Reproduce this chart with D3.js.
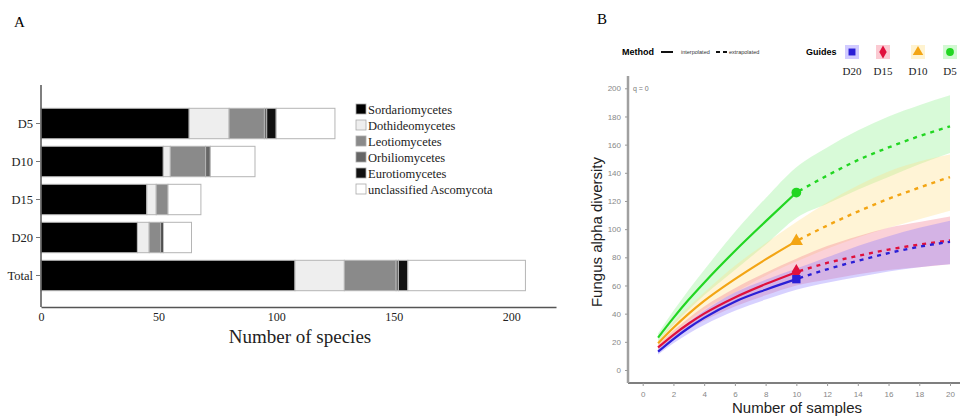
<!DOCTYPE html>
<html>
<head>
<meta charset="utf-8">
<script src="https://cdn.jsdelivr.net/npm/d3@7"></script>
<style>
  body { margin: 0; background: #fff; }
  svg { display: block; }
</style>
</head>
<body>
<svg id="chart" width="964" height="419"></svg>
<script>
// ---- panel A data ----
var groups = ['D5', 'D10', 'D15', 'D20', 'Total']
var classes = ['Sordariomycetes', 'Dothideomycetes', 'Leotiomycetes', 'Orbiliomycetes', 'Eurotiomycetes', 'unclassified Ascomycota']
var sordario = [63, 52, 45, 41, 108]
var dothideo = [17, 3, 4, 5, 21]
var leotio = [15, 15, 5, 5, 22]
var orbilio = [1, 2, 0, 0, 1]
var eurotio = [4, 0, 0, 1, 4]
var unclass = [25, 19, 14, 12, 50]
var speciesTicks = [0, 50, 100, 150, 200]
var classColors = ['#000000', '#eeeeee', '#8a8a8a', '#666666', '#111111', '#ffffff']

// ---- panel B data ----
var sampleX = [1, 2, 3, 4, 6, 8, 10, 12, 14, 16, 18, 20]
var guides = ['D20', 'D15', 'D10', 'D5']
var d20_est = [13, 22, 30, 37, 48.5, 57, 64.5, 71.5, 77.5, 83, 87.5, 91]
var d20_lo = [11, 19, 26, 32, 42, 50, 57, 62, 66, 70, 73, 75]
var d20_hi = [15, 25, 34, 42, 55, 64, 72, 80, 88, 95, 101, 106]
var d15_est = [16, 25, 33, 40, 51.5, 61, 69.5, 76, 81, 85.5, 89, 92]
var d15_lo = [14, 22, 29, 35, 45, 53, 60, 64, 68, 71, 73, 75]
var d15_hi = [18, 28, 37, 45, 58, 69, 79, 88, 95, 101, 105, 109]
var d10_est = [19, 30, 40, 49, 64.5, 78.5, 91.5, 102.5, 112.5, 121.5, 129.5, 137]
var d10_lo = [17, 26, 35, 43, 55, 67, 77, 86, 94, 101, 107, 113]
var d10_hi = [21, 34, 45, 55, 74, 90, 105, 119, 131, 141, 148, 153]
var d5_est = [23, 37, 50, 62, 84.5, 105.5, 126, 138, 149, 158, 166, 173]
var d5_lo = [20, 32, 43, 53, 71, 89, 108, 118, 128, 137, 146, 154]
var d5_hi = [26, 42, 57, 71, 98, 122, 144, 158, 170, 180, 188, 195]
var diversityTicks = [0, 20, 40, 60, 80, 100, 120, 140, 160, 180, 200]
var sampleTicks = [0, 2, 4, 6, 8, 10, 12, 14, 16, 18, 20]
var guideColors = ['#2a1fd6', '#e0103c', '#f3a514', '#22d622']
var bandColors = ['#8c7cff', '#f47a8e', '#ffe08a', '#8ef08e']
var guideShapes = [d3.symbolSquare, d3.symbolDiamond, d3.symbolTriangle, d3.symbolCircle]

var svg = d3.select('#chart')
var serif = 'Liberation Serif, Times New Roman, serif'
var sans = 'Liberation Sans, Arial, sans-serif'

// ================= panel A =================
svg.append('text').attr('x', 14).attr('y', 27)
  .style('font-family', serif).style('font-size', '15px').text('A')

var a_x = d3.scaleLinear().domain([0, 219]).range([41, 556])
var a_y = d3.scaleBand().domain(groups).range([95, 304]).paddingInner(0.2).paddingOuter(0.35)

var stackRows = groups.map(function(g, i) {
  return { group: g, s: [sordario[i], dothideo[i], leotio[i], orbilio[i], eurotio[i], unclass[i]] }
})

var a_g = svg.append('g')
stackRows.forEach(function(row) {
  var start = 0
  row.s.forEach(function(v, k) {
    if (v > 0) {
      a_g.append('rect')
        .attr('x', a_x(start))
        .attr('y', a_y(row.group))
        .attr('width', a_x(start + v) - a_x(start))
        .attr('height', a_y.bandwidth())
        .attr('fill', classColors[k])
        .attr('stroke', '#b5b5b5')
        .attr('stroke-width', 1)
    }
    start += v
  })
})

var a_xAxis = svg.append('g')
  .attr('transform', 'translate(0,307)')
  .call(d3.axisBottom(a_x).tickValues(speciesTicks).tickSize(0).tickPadding(5).tickSizeOuter(0))
a_xAxis.select('.domain').attr('stroke', '#555').attr('stroke-width', 1.5)
a_xAxis.selectAll('text').style('font-family', serif).style('font-size', '12px').attr('fill', '#222')

var a_yAxis = svg.append('g')
  .attr('transform', 'translate(41,0)')
  .call(d3.axisLeft(a_y).tickSize(5).tickPadding(3).tickSizeOuter(0))
a_yAxis.select('.domain').attr('d', 'M0,85V307').attr('stroke', '#555').attr('stroke-width', 1.5)
a_yAxis.selectAll('.tick line').attr('stroke', '#777')
a_yAxis.selectAll('text').style('font-family', serif).style('font-size', '12.5px').attr('fill', '#222')

svg.append('text').attr('x', 300).attr('y', 343).attr('text-anchor', 'middle')
  .style('font-family', serif).style('font-size', '19px').attr('fill', '#222').text('Number of species')

// legend A
var a_leg = svg.append('g').attr('transform', 'translate(356,104)')
classes.forEach(function(c, k) {
  a_leg.append('rect').attr('x', 0).attr('y', k * 16).attr('width', 10).attr('height', 10)
    .attr('fill', classColors[k]).attr('stroke', '#aaa').attr('stroke-width', 0.8)
  a_leg.append('text').attr('x', 12).attr('y', k * 16 + 10)
    .style('font-family', serif).style('font-size', '12.5px').attr('fill', '#222').text(c)
})

// ================= panel B =================
svg.append('text').attr('x', 597).attr('y', 24)
  .style('font-family', serif).style('font-size', '15px').text('B')

var b_x = d3.scaleLinear().domain([0, 20]).range([642.7, 950])
var b_y = d3.scaleLinear().domain([0, 200]).range([370, 88.3])

var curves = [
  { est: d20_est, lo: d20_lo, hi: d20_hi },
  { est: d15_est, lo: d15_lo, hi: d15_hi },
  { est: d10_est, lo: d10_lo, hi: d10_hi },
  { est: d5_est, lo: d5_lo, hi: d5_hi }
]

var area = d3.area()
  .x(function(d) { return b_x(d.x) })
  .y0(function(d) { return b_y(d.lo) })
  .y1(function(d) { return b_y(d.hi) })
  .curve(d3.curveMonotoneX)
var line = d3.line()
  .x(function(d) { return b_x(d.x) })
  .y(function(d) { return b_y(d.y) })
  .curve(d3.curveMonotoneX)

var b_g = svg.append('g')
// bands, drawn top group first so lower ones sit over
for (var i = 3; i >= 0; i--) {
  var pts = sampleX.map(function(x, j) { return { x: x, lo: curves[i].lo[j], hi: curves[i].hi[j] } })
  b_g.append('path').attr('d', area(pts)).attr('fill', bandColors[i]).attr('opacity', 0.35)
}
for (var i = 3; i >= 0; i--) {
  var inter = [], extra = []
  sampleX.forEach(function(x, j) {
    if (x <= 10) inter.push({ x: x, y: curves[i].est[j] })
    if (x >= 10) extra.push({ x: x, y: curves[i].est[j] })
  })
  b_g.append('path').attr('d', line(inter)).attr('fill', 'none')
    .attr('stroke', guideColors[i]).attr('stroke-width', 2.2)
  b_g.append('path').attr('d', line(extra)).attr('fill', 'none')
    .attr('stroke', guideColors[i]).attr('stroke-width', 2.4)
    .attr('stroke-dasharray', '4,5').attr('stroke-dashoffset', -12)
  var j10 = sampleX.indexOf(10)
  b_g.append('path')
    .attr('d', d3.symbol().type(guideShapes[i]).size(i == 0 ? 70 : 75)())
    .attr('transform', 'translate(' + b_x(10) + ',' + b_y(curves[i].est[j10]) + ')')
    .attr('fill', guideColors[i])
}

var b_xAxis = svg.append('g')
  .attr('transform', 'translate(0,383)')
  .call(d3.axisBottom(b_x).tickValues(sampleTicks).tickSize(3).tickPadding(5).tickSizeOuter(0))
b_xAxis.select('.domain').attr('d', 'M628,0H960').attr('stroke', '#555').attr('stroke-width', 1.5)
b_xAxis.selectAll('.tick line').attr('stroke', '#999')
b_xAxis.selectAll('text').style('font-family', sans).style('font-size', '8px').attr('fill', '#888')

var b_yAxis = svg.append('g')
  .attr('transform', 'translate(628,0)')
  .call(d3.axisLeft(b_y).tickValues(diversityTicks).tickSize(3).tickPadding(4).tickSizeOuter(0))
b_yAxis.select('.domain').attr('d', 'M0,76V383').attr('stroke', '#a0a0a0').attr('stroke-width', 2.5)
b_yAxis.selectAll('.tick line').attr('stroke', '#999')
b_yAxis.selectAll('text').style('font-family', sans).style('font-size', '8px').attr('fill', '#888')

svg.append('text').attr('x', 633).attr('y', 91)
  .style('font-family', sans).style('font-size', '7px').attr('fill', '#777').text('q = 0')

svg.append('text').attr('transform', 'translate(602,232) rotate(-90)').attr('text-anchor', 'middle')
  .style('font-family', sans).style('font-size', '15px').attr('fill', '#222').text('Fungus alpha diversity')
svg.append('text').attr('x', 797).attr('y', 413).attr('text-anchor', 'middle')
  .style('font-family', sans).style('font-size', '15px').attr('fill', '#222').text('Number of samples')

// legend B
var b_leg = svg.append('g')
b_leg.append('text').attr('x', 622).attr('y', 55)
  .style('font-family', sans).style('font-size', '9px').style('font-weight', 'bold').text('Method')
b_leg.append('line').attr('x1', 661).attr('x2', 673).attr('y1', 52).attr('y2', 52)
  .attr('stroke', '#111').attr('stroke-width', 2)
b_leg.append('text').attr('x', 681).attr('y', 54)
  .style('font-family', sans).style('font-size', '5.5px').attr('fill', '#333').text('interpolated')
b_leg.append('line').attr('x1', 716).attr('x2', 727).attr('y1', 52).attr('y2', 52)
  .attr('stroke', '#111').attr('stroke-width', 2).attr('stroke-dasharray', '4,3')
b_leg.append('text').attr('x', 729).attr('y', 54)
  .style('font-family', sans).style('font-size', '5.5px').attr('fill', '#333').text('extrapolated')
b_leg.append('text').attr('x', 806).attr('y', 55)
  .style('font-family', sans).style('font-size', '9px').style('font-weight', 'bold').text('Guides')

var keyX = [852, 883, 918, 950]
guides.forEach(function(gname, i) {
  b_leg.append('rect').attr('x', keyX[i] - 7).attr('y', 45).attr('width', 14).attr('height', 14)
    .attr('fill', bandColors[i]).attr('opacity', 0.4)
  b_leg.append('path')
    .attr('d', d3.symbol().type(guideShapes[i]).size(48)())
    .attr('transform', 'translate(' + keyX[i] + ',52)')
    .attr('fill', guideColors[i])
  b_leg.append('text').attr('x', keyX[i]).attr('y', 75).attr('text-anchor', 'middle')
    .style('font-family', serif).style('font-size', '11px').attr('fill', '#222').text(gname)
})
</script>
</body>
</html>
